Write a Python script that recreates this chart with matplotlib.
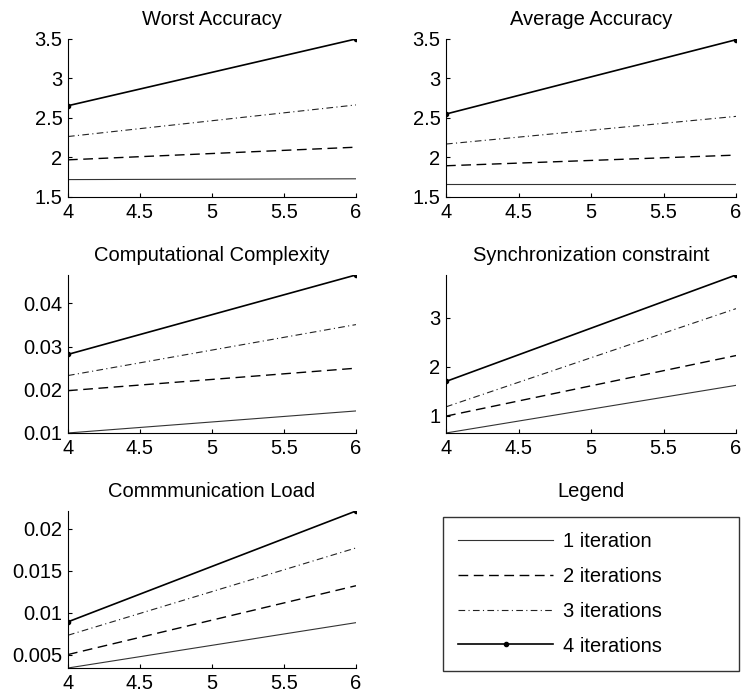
import numpy as np
import matplotlib
matplotlib.use('Agg')
import matplotlib.pyplot as plt
from matplotlib.lines import Line2D

plt.rcParams['font.family'] = ['Liberation Sans', 'DejaVu Sans']
FS = 14.5

# number of nodes (x axis)
x = [4, 6]

labels = ['1 iteration', '2 iterations', '3 iterations', '4 iterations']

worst_acc = [[1.72, 1.73], [1.97, 2.13], [2.265, 2.665], [2.655, 3.50]]
avg_acc = [[1.66, 1.66], [1.895, 2.03], [2.17, 2.52], [2.55, 3.49]]
comp_cx = [[0.0100, 0.0151], [0.0198, 0.0250], [0.0233, 0.0351], [0.0282, 0.0466]]
sync_c = [[0.645, 1.62], [0.99, 2.23], [1.18, 3.19], [1.70, 3.88]]
comm_load = [[0.0034, 0.0088], [0.0050, 0.0132], [0.0073, 0.0177], [0.0089, 0.0221]]

titles = ['Worst Accuracy', 'Average Accuracy', 'Computational Complexity',
          'Synchronization constraint', 'Commmunication Load']
datasets = [worst_acc, avg_acc, comp_cx, sync_c, comm_load]
ylims = [(1.5, 3.5), (1.5, 3.5), (0.01, 0.0466), (0.645, 3.88), (0.0034, 0.0221)]
yticks = [[1.5, 2, 2.5, 3, 3.5], [1.5, 2, 2.5, 3, 3.5], [0.01, 0.02, 0.03, 0.04],
          [1, 2, 3], [0.005, 0.01, 0.015, 0.02]]
yticklabels = [['1.5', '2', '2.5', '3', '3.5'], ['1.5', '2', '2.5', '3', '3.5'],
               ['0.01', '0.02', '0.03', '0.04'], ['1', '2', '3'],
               ['0.005', '0.01', '0.015', '0.02']]

styles = [
    dict(color='#333333', lw=0.8, linestyle='-'),
    dict(color='black', lw=1.0, dashes=(7, 4)),
    dict(color='#222222', lw=0.8, dashes=(6, 3, 1, 3)),
    dict(color='black', lw=1.2, linestyle='-', marker='.', markersize=6),
]

fig = plt.figure(figsize=(7.43, 6.98), dpi=100)

# axes positions [left, bottom, width, height]
lefts = [0.0915, 0.6003]
widths = [0.3876, 0.3903]
bottoms = [0.7178, 0.3797, 0.043]
heights = [0.2264, 0.2264, 0.2249]

for i in range(5):
    r, c = i // 2, i % 2
    ax = fig.add_axes([lefts[c], bottoms[r], widths[c], heights[r]])
    for d, st in zip(datasets[i], styles):
        ax.plot(x, d, **st)
    ax.set_xlim(4, 6)
    ax.set_ylim(*ylims[i])
    ax.set_xticks([4, 4.5, 5, 5.5, 6])
    ax.set_xticklabels(['4', '4.5', '5', '5.5', '6'])
    ax.set_yticks(yticks[i])
    ax.set_yticklabels(yticklabels[i])
    ax.spines['top'].set_visible(False)
    ax.spines['right'].set_visible(False)
    ax.tick_params(direction='in', length=3, width=0.8, pad=4, labelsize=FS)
    ax.set_title(titles[i], fontsize=FS, pad=10)

# legend panel
axl = fig.add_axes([lefts[1], bottoms[2], widths[1], heights[2]])
axl.axis('off')
axl.set_title('Legend', fontsize=FS, pad=10)
handles = [Line2D([], [], **st) for st in styles]
leg = axl.legend(handles, labels, loc='upper left', bbox_to_anchor=(-0.01, 0.96, 1.02, 0.0),
                 mode='expand', numpoints=1, handlelength=4.7, handletextpad=0.5,
                 labelspacing=0.78, borderpad=0.75, fancybox=False, borderaxespad=0,
                 fontsize=FS)
leg.get_frame().set_edgecolor('black')
leg.get_frame().set_linewidth(1.0)

fig.savefig('out.png', dpi=100)
